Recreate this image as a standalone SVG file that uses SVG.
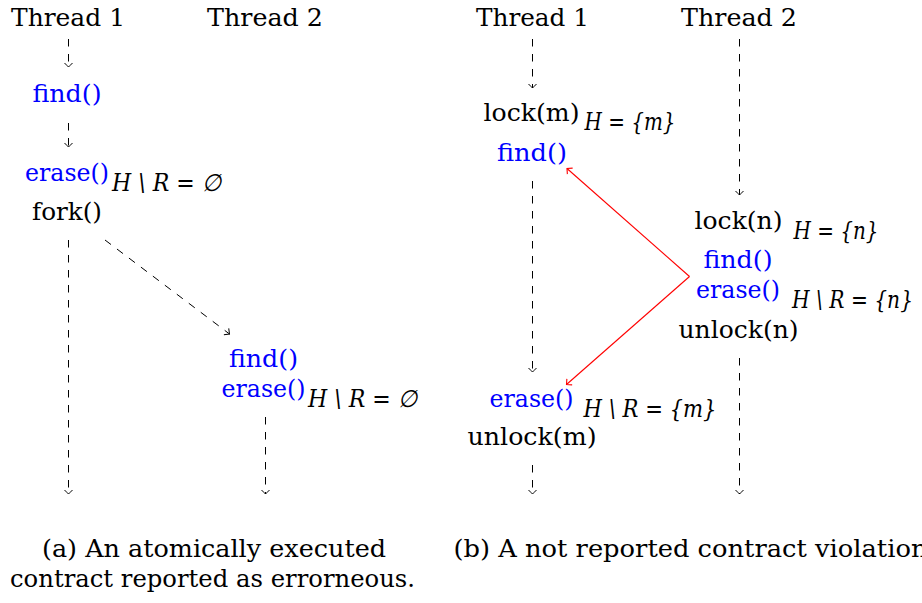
<svg xmlns="http://www.w3.org/2000/svg" width="922" height="603" viewBox="0 0 922 603">
  <style>
    text { font-family: "DejaVu Serif", "Liberation Serif", serif; font-size: 24px; fill: #000; }
    .call { fill: #0000ff; }
    .math { font-style: italic; }
    .flow { fill: none; stroke: #000; stroke-width: 1; stroke-dasharray: 7.5 7.5; }
    .conflict { fill: none; stroke: #ff0000; stroke-width: 1.1; }
  </style>
  <defs>
    <marker id="tip" markerUnits="userSpaceOnUse" markerWidth="12" markerHeight="12" viewBox="-6 -6 12 12" refX="0" refY="0" orient="auto">
      <path d="M -4 -4 Q -1 -1 0 0 Q -1 1 -4 4" fill="none" stroke="#000" stroke-width="1"/>
    </marker>
    <marker id="tipRed" markerUnits="userSpaceOnUse" markerWidth="12" markerHeight="12" viewBox="-6 -6 12 12" refX="0" refY="0" orient="auto">
      <path d="M -4 -4 Q -1 -1 0 0 Q -1 1 -4 4" fill="none" stroke="#ff0000" stroke-width="1.1"/>
    </marker>
  </defs>

  <!-- (a) fork: atomic contract flagged -->
  <g id="a-thread1-title"><text x="11" y="26" textLength="114" lengthAdjust="spacingAndGlyphs">Thread 1</text></g>
  <g id="a-thread2-title"><text x="207" y="26" textLength="116" lengthAdjust="spacingAndGlyphs">Thread 2</text></g>
  <g id="a-t1-find"><text class="call" x="32.5" y="102" textLength="69" lengthAdjust="spacingAndGlyphs">find()</text></g>
  <g id="a-t1-erase">
    <text class="call" x="25" y="181" textLength="84" lengthAdjust="spacingAndGlyphs">erase()</text>
    <text class="math" x="112" y="191" textLength="109" lengthAdjust="spacingAndGlyphs">H \ R = ∅</text>
  </g>
  <g id="a-t1-fork"><text x="32" y="220" textLength="70" lengthAdjust="spacingAndGlyphs">fork()</text></g>
  <g id="a-t2-calls">
    <text class="call" x="229" y="367" textLength="69" lengthAdjust="spacingAndGlyphs">find()</text>
    <text class="call" x="221.5" y="396.5" textLength="84" lengthAdjust="spacingAndGlyphs">erase()</text>
    <text class="math" x="308" y="406.5" textLength="109" lengthAdjust="spacingAndGlyphs">H \ R = ∅</text>
  </g>

  <!-- (b) two locks: violation missed -->
  <g id="b-thread1-title"><text x="476" y="26" textLength="113" lengthAdjust="spacingAndGlyphs">Thread 1</text></g>
  <g id="b-thread2-title"><text x="681" y="26" textLength="116" lengthAdjust="spacingAndGlyphs">Thread 2</text></g>
  <g id="b-t1-lock">
    <text x="483.5" y="121" textLength="96" lengthAdjust="spacingAndGlyphs">lock(m)</text>
    <text class="math" x="584.5" y="130" textLength="91" lengthAdjust="spacingAndGlyphs">H = {m}</text>
  </g>
  <g id="b-t1-find"><text class="call" x="497" y="161" textLength="70" lengthAdjust="spacingAndGlyphs">find()</text></g>
  <g id="b-t1-erase">
    <text class="call" x="489.5" y="406.5" textLength="84" lengthAdjust="spacingAndGlyphs">erase()</text>
    <text class="math" x="583.5" y="416.5" textLength="133" lengthAdjust="spacingAndGlyphs">H \ R = {m}</text>
  </g>
  <g id="b-t1-unlock"><text x="467.5" y="445" textLength="129" lengthAdjust="spacingAndGlyphs">unlock(m)</text></g>
  <g id="b-t2-lock">
    <text x="694.5" y="229" textLength="88" lengthAdjust="spacingAndGlyphs">lock(n)</text>
    <text class="math" x="793.5" y="239" textLength="85" lengthAdjust="spacingAndGlyphs">H = {n}</text>
  </g>
  <g id="b-t2-calls">
    <text class="call" x="703.5" y="268" textLength="69" lengthAdjust="spacingAndGlyphs">find()</text>
    <text class="call" x="696" y="297.5" textLength="84" lengthAdjust="spacingAndGlyphs">erase()</text>
    <text class="math" x="792" y="308" font-size="22" textLength="121" lengthAdjust="spacingAndGlyphs">H \ R = {n}</text>
  </g>
  <g id="b-t2-unlock"><text x="678.5" y="337.5" textLength="120" lengthAdjust="spacingAndGlyphs">unlock(n)</text></g>

  <!-- connectors -->
  <g id="connectors">
    <line class="flow" x1="68.5" y1="39" x2="68.5" y2="67" marker-end="url(#tip)"/>
    <line class="flow" x1="68.5" y1="123" x2="68.5" y2="147" marker-end="url(#tip)"/>
    <line class="flow" x1="68.5" y1="240" x2="68.5" y2="494" marker-end="url(#tip)"/>
    <line class="flow" x1="105" y1="240" x2="229.5" y2="334" marker-end="url(#tip)"/>
    <line class="flow" x1="265.5" y1="417" x2="265.5" y2="494" marker-end="url(#tip)"/>

    <line class="flow" x1="532.5" y1="39" x2="532.5" y2="88" marker-end="url(#tip)"/>
    <line class="flow" x1="532.5" y1="181" x2="532.5" y2="372" marker-end="url(#tip)"/>
    <line class="flow" x1="532.5" y1="465" x2="532.5" y2="494" marker-end="url(#tip)"/>
    <line class="flow" x1="739.5" y1="39" x2="739.5" y2="195" marker-end="url(#tip)"/>
    <line class="flow" x1="739.5" y1="358" x2="739.5" y2="494" marker-end="url(#tip)"/>

    <line class="conflict" x1="689.5" y1="276.5" x2="567" y2="168.5" marker-end="url(#tipRed)"/>
    <line class="conflict" x1="689.5" y1="276.5" x2="566.5" y2="384.5" marker-end="url(#tipRed)"/>
  </g>

  <!-- sub-captions -->
  <text x="42" y="557" textLength="344" lengthAdjust="spacingAndGlyphs">(a) An atomically executed</text>
  <text x="10" y="587" textLength="405" lengthAdjust="spacingAndGlyphs">contract reported as errorneous.</text>
  <text x="453.5" y="557" textLength="474" lengthAdjust="spacingAndGlyphs">(b) A not reported contract violation</text>
</svg>
